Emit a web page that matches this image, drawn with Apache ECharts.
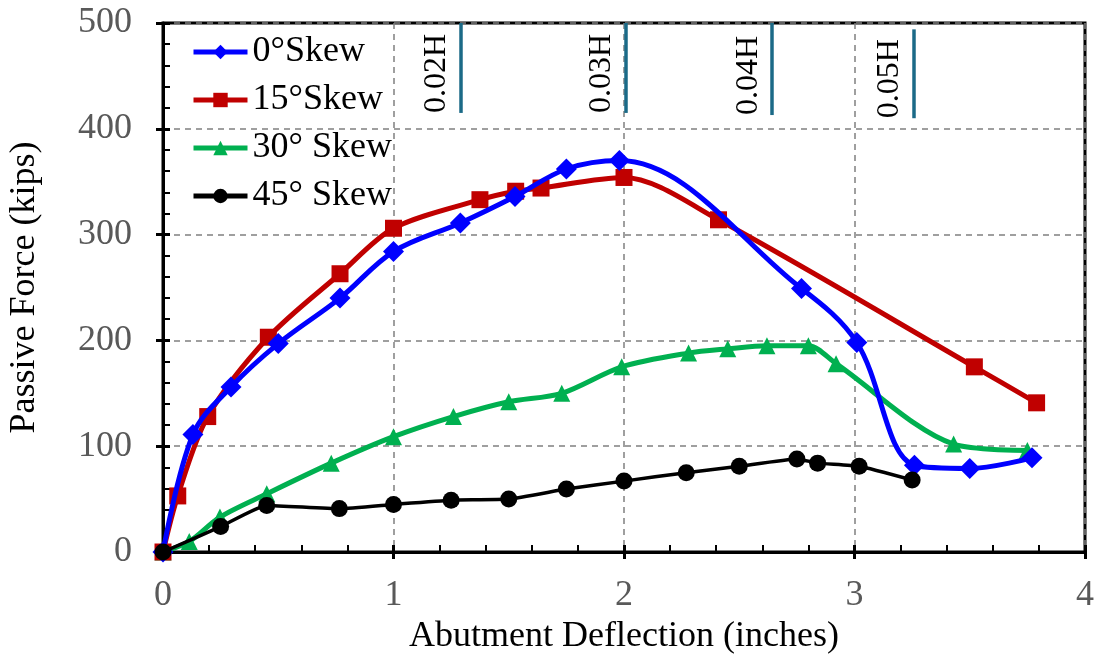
<!DOCTYPE html>
<html>
<head>
<meta charset="utf-8">
<script src="https://cdn.jsdelivr.net/npm/echarts@6/dist/echarts.min.js"></script>
<style>
  html, body { margin: 0; padding: 0; background: #fff; }
  #chart { width: 1096px; height: 654px; }
</style>
</head>
<body>
<div id="chart"></div>
<script>
// 各斜交角的被动土压力 - 位移曲线
const skew0X = [0, 0.13, 0.295, 0.50, 0.768, 1.0, 1.29, 1.527, 1.75, 1.98, 2.77, 3.01, 3.26, 3.50, 3.77]
const skew0Y = [0, 111, 156, 197, 240, 284, 311, 336, 362, 370, 249, 198, 82, 79, 89]

const skew15X = [0, 0.064, 0.194, 0.457, 0.768, 1.0, 1.375, 1.53, 1.64, 2.0, 2.41, 3.52, 3.79]
const skew15Y = [0, 53, 128, 203, 263, 306, 333, 341, 344, 354, 314, 175, 141]

const skew30X = [0, 0.114, 0.247, 0.45, 0.73, 1.0, 1.26, 1.50, 1.73, 1.99, 2.28, 2.45, 2.62, 2.80, 2.92, 3.43, 3.75]
const skew30Y = [0, 10, 33, 55, 84, 109, 128, 142, 150, 175, 188, 192, 195, 195, 178, 102, 96]

const skew45X = [0, 0.25, 0.45, 0.765, 1.0, 1.25, 1.50, 1.75, 2.0, 2.27, 2.50, 2.75, 2.84, 3.02, 3.25]
const skew45Y = [0, 24, 44, 41, 45, 49, 50, 59.5, 67, 75, 81, 88, 84, 81, 68]

// 0.02H ~ 0.05H 标记线
const hLabels = ['0.02H', '0.03H', '0.04H', '0.05H']
const hX = [1.29, 2.007, 2.643, 3.255]
const hTop = [500, 500, 500, 494]
const hBottom = [415, 415, 413, 410]

const seriesNames = ['0°Skew', '15°Skew', '30° Skew', '45° Skew']

const FONT = 'Liberation Serif'

function pairs(xs, ys) {
  return xs.map((x, i) => [x, ys[i]])
}

let markData = hLabels.map((name, i) => [
  { name: name, coord: [hX[i], hBottom[i]] },
  { coord: [hX[i], hTop[i]] }
])

let option = {
  animation: false,
  backgroundColor: '#fff',
  grid: {
    left: 163, right: 11, top: 23, bottom: 102,
    outerBoundsMode: 'none',
    show: true, borderColor: '#000', borderWidth: 3
  },
  legend: {
    orient: 'vertical',
    left: 186, top: 29,
    itemWidth: 54, itemHeight: 18, itemGap: 12,
    lineStyle: { width: 5 },
    textStyle: { fontFamily: FONT, fontSize: 36, color: '#000', padding: [0, 0, 0, 0] },
    data: seriesNames
  },
  xAxis: [{
    type: 'value', min: 0, max: 4, interval: 1,
    name: 'Abutment Deflection (inches)',
    nameLocation: 'middle', nameGap: 62,
    nameTextStyle: { fontFamily: FONT, fontSize: 36, color: '#000' },
    axisLine: { lineStyle: { color: '#000', width: 3 } },
    axisTick: { length: 7, lineStyle: { color: '#000', width: 3 } },
    axisLabel: { margin: 26, fontFamily: FONT, fontSize: 36, color: '#595959' },
    splitLine: { lineStyle: { color: '#808080', width: 1.5, type: [6, 5] } }
  }, {
    type: 'value', min: 0, max: 4, interval: 1, position: 'bottom',
    axisLine: { show: false },
    axisTick: { inside: true, length: 7, lineStyle: { color: '#000', width: 3 } },
    minorTick: { show: true, splitNumber: 5, length: 7, lineStyle: { color: '#000', width: 2 } },
    axisLabel: { show: false },
    splitLine: { show: false }
  }],
  yAxis: [{
    type: 'value', min: 0, max: 500, interval: 100,
    name: 'Passive Force (kips)',
    nameLocation: 'middle', nameGap: 120,
    nameTextStyle: { fontFamily: FONT, fontSize: 36, color: '#000' },
    axisLine: { show: true, lineStyle: { color: '#000', width: 3 } },
    axisTick: { show: true, length: 7, lineStyle: { color: '#000', width: 3 } },
    axisLabel: { margin: 31, fontFamily: FONT, fontSize: 36, color: '#595959' },
    splitLine: { lineStyle: { color: '#808080', width: 1.5, type: [6, 5] } }
  }, {
    type: 'value', min: 0, max: 500, interval: 100, position: 'left',
    axisLine: { show: false },
    axisTick: { show: true, inside: true, length: 7, lineStyle: { color: '#000', width: 3 } },
    minorTick: { show: true, splitNumber: 5, length: 7, lineStyle: { color: '#000', width: 2 } },
    axisLabel: { show: false },
    splitLine: { show: false }
  }],
  series: [
    {
      name: seriesNames[0], type: 'line', smooth: 0.35,
      data: pairs(skew0X, skew0Y),
      symbol: 'diamond', symbolSize: 21,
      itemStyle: { color: '#0000FF' },
      lineStyle: { color: '#0000FF', width: 5 },
      z: 5
    },
    {
      name: seriesNames[1], type: 'line', smooth: 0.3,
      data: pairs(skew15X, skew15Y),
      symbol: 'rect', symbolSize: 17,
      itemStyle: { color: '#C00000' },
      lineStyle: { color: '#C00000', width: 5 },
      z: 4
    },
    {
      name: seriesNames[2], type: 'line', smooth: 0.3,
      data: pairs(skew30X, skew30Y),
      symbol: 'triangle', symbolSize: 17,
      itemStyle: { color: '#00B050' },
      lineStyle: { color: '#00B050', width: 5 },
      z: 3
    },
    {
      name: seriesNames[3], type: 'line', smooth: 0.15,
      data: pairs(skew45X, skew45Y),
      symbol: 'circle', symbolSize: 17,
      itemStyle: { color: '#000' },
      lineStyle: { color: '#000', width: 3.5 },
      z: 6,
      markLine: {
        silent: true,
        symbol: 'none',
        lineStyle: { color: '#1B6A87', width: 3.5, type: 'solid' },
        label: {
          show: true,
          position: 'insideStartTop',
          distance: [0, 8],
          formatter: '{b}',
          fontFamily: FONT, fontSize: 32, color: '#000'
        },
        data: markData
      }
    }
  ]
}

echarts.init(document.getElementById('chart')).setOption(option)
</script>
</body>
</html>
